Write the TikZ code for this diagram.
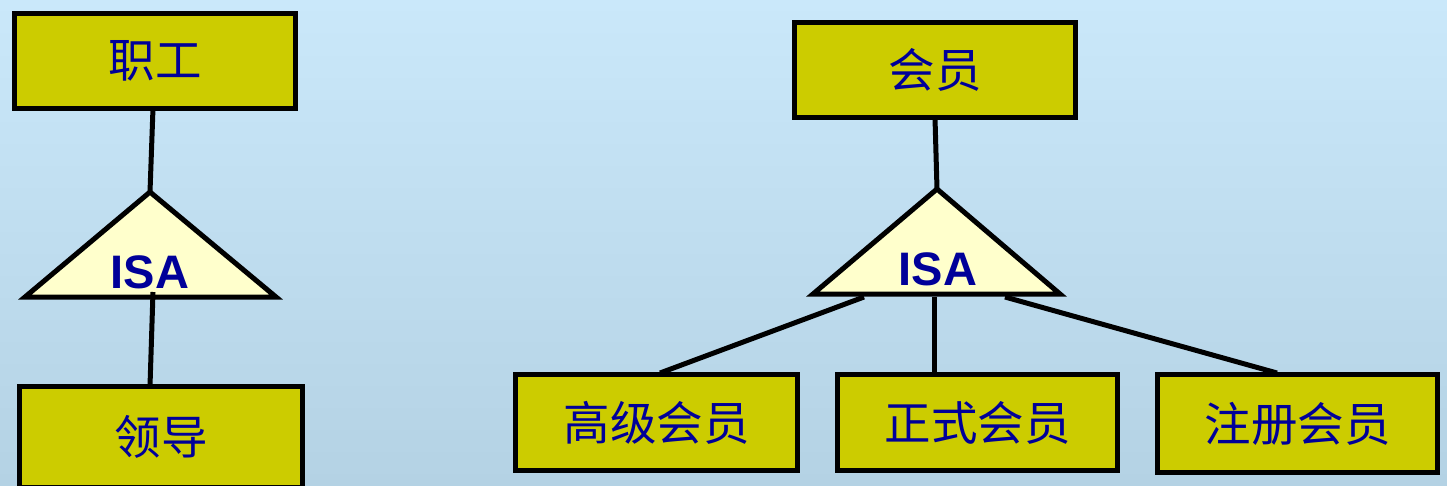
\documentclass[tikz,border=0pt]{standalone}
\usepackage{fontspec}
\newfontfamily\cjk{Noto Sans CJK SC}
\newfontfamily\isafont{Liberation Sans}
\definecolor{bgtop}{RGB}{202,232,250}
\definecolor{bgbot}{RGB}{180,210,228}
\definecolor{boxfill}{RGB}{204,204,0}
\definecolor{trifill}{RGB}{255,255,204}
\definecolor{txtblue}{RGB}{0,0,153}
\tikzset{
  entbox/.style={draw=black, line width=5pt, fill=boxfill, rectangle, inner sep=0pt,
    text=txtblue, font=\cjk\fontsize{46.5}{46.5}\selectfont},
  isatri/.style={draw=black, line width=5pt, fill=trifill, line join=miter},
  isatext/.style={text=txtblue, font=\isafont\bfseries\fontsize{47}{47}\selectfont, inner sep=0pt},
  link/.style={draw=black, line width=5pt}
}
\begin{document}
\begin{tikzpicture}[x=1pt,y=-1pt]
\useasboundingbox (0,0) rectangle (1447,485);
\shade[top color=bgtop, bottom color=bgbot] (0,0) rectangle (1447,485);

% left group
\node[entbox, minimum width=281pt, minimum height=95pt] (zg) at (155,60.5) {职工};
\node[entbox, minimum width=283pt, minimum height=101pt] (ld) at (161,437) {领导};
\coordinate (t1a) at (150,192);
\coordinate (t1l) at (25,297);
\coordinate (t1r) at (276,297);
\path[isatri] (t1a) -- (t1l) -- (t1r) -- cycle;
\node[isatext] (isa1) at (150,272) {ISA};
\coordinate (t1top) at (153,108);
\coordinate (t1bot) at (153,292);
\coordinate (ldtop) at (150,386);
\draw[link] (t1top) -- (t1a);
\draw[link] (t1bot) -- (ldtop);

% right group
\node[entbox, minimum width=281pt, minimum height=95pt] (hy) at (935,70) {会员};
\node[entbox, minimum width=282pt, minimum height=96pt] (gj) at (656.5,422.5) {高级会员};
\node[entbox, minimum width=280pt, minimum height=96pt] (zs) at (977.5,422.5) {正式会员};
\node[entbox, minimum width=280pt, minimum height=98pt] (zc) at (1297.5,423.5) {注册会员};
\coordinate (t2a) at (937,189);
\coordinate (t2l) at (813,294);
\coordinate (t2r) at (1060,294);
\path[isatri] (t2a) -- (t2l) -- (t2r) -- cycle;
\node[isatext] (isa2) at (938,269) {ISA};
\coordinate (hybot) at (935,118);
\draw[link] (hybot) -- (t2a);
\coordinate (b1) at (864,297);
\coordinate (b2) at (934,297);
\coordinate (b3) at (1005,297);
\coordinate (gjtop) at (660,373);
\coordinate (zstop) at (934,373);
\coordinate (zctop) at (1277,373);
\draw[link] (b1) -- (gjtop);
\draw[link] (b2) -- (zstop);
\draw[link] (b3) -- (zctop);
\end{tikzpicture}
\end{document}
